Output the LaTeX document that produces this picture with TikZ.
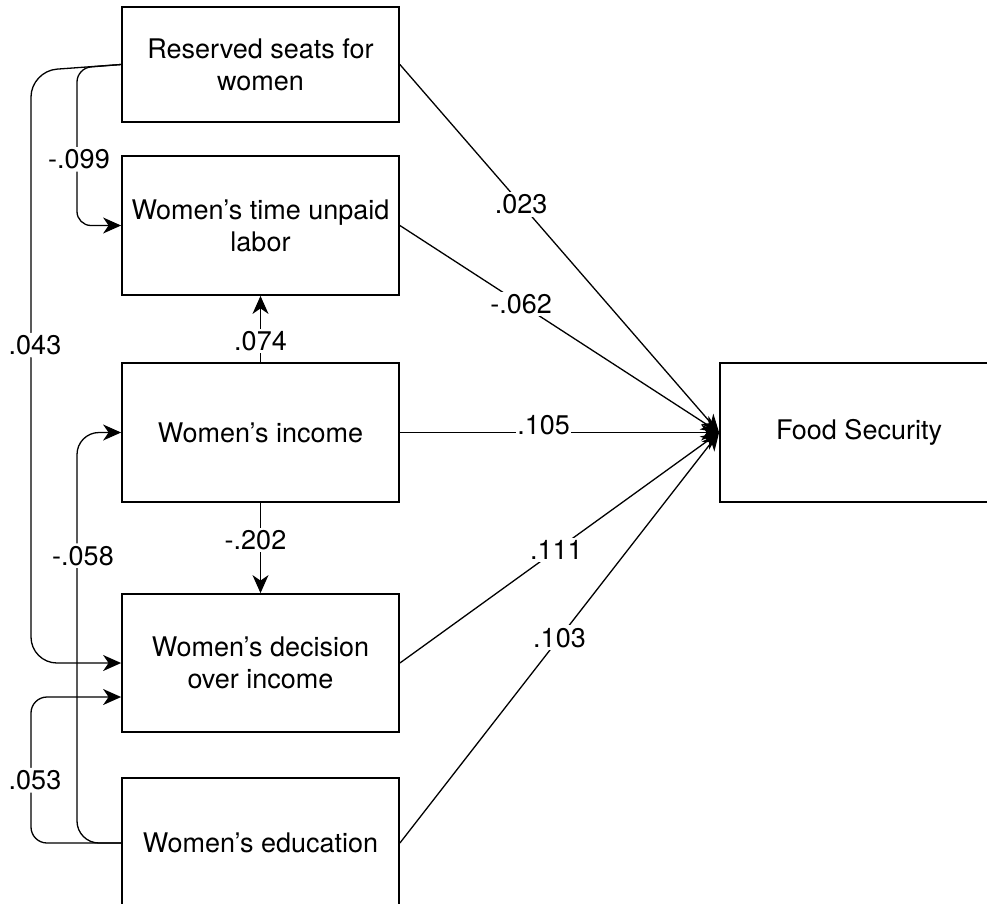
\documentclass[tikz,border=0pt]{standalone}
\usepackage{fontspec}
\setmainfont{TeX Gyre Heros}
\usetikzlibrary{arrows.meta}
\begin{document}
\begin{tikzpicture}[x=1pt,y=-1pt,
  txt/.style={font=\fontsize{27}{32}\selectfont},
  box/.style={draw, line width=1.8pt, minimum width=277pt, align=center, inner sep=0pt, txt},
  conn/.style={line width=1.3pt, -{Stealth[length=18pt,width=16pt,inset=5.5pt]}},
  lab/.style={fill=white, inner sep=2.5pt, txt}]
\useasboundingbox (0,0) rectangle (987,903);

\node[box, minimum height=115pt] (res) at (260.5,64.5) {Reserved seats for\\women};
\node[box, minimum height=139pt] (time) at (260.5,225.5) {Women's time unpaid\\labor};
\node[box, minimum height=139pt] (inc) at (260.5,432.5) {Women's income};
\node[box, minimum height=138pt] (dec) at (260.5,663) {Women's decision\\over income};
\node[box, minimum height=130pt] (edu) at (260.5,843) {Women's education};
\node[box, minimum width=278pt, minimum height=139pt] (fs) at (859,432.5) {Food Security};

\coordinate (d2) at ([yshift=-34pt]dec.west);

% to Food Security
\draw[conn] (res.east) -- node[lab, pos=0.38] {.023} (fs.west);
\draw[conn] (time.east) -- node[lab, pos=0.38] {-.062} (fs.west);
\draw[conn] (inc.east) -- node[lab, pos=0.45, anchor=base, yshift=-2pt, inner sep=1pt] {.105} (fs.west);
\draw[conn] (dec.east) -- node[lab, pos=0.49] {.111} (fs.west);
\draw[conn] (edu.east) -- node[lab, pos=0.5] {.103} (fs.west);

% vertical between boxes
\draw[conn] (inc.north) -- node[lab, pos=0.32] {.074} (time.south);
\draw[conn] (inc.south) -- node[lab, pos=0.41, xshift=-5pt] {-.202} (dec.north);

% left curved connectors
\draw[conn, rounded corners=26pt] (res.west) -- (31,71) -- node[lab, pos=0.463, xshift=4pt] {.043} (31,663) -- (dec.west);
\draw[conn, rounded corners=14pt] (res.west) -- (77,68) -- node[lab, pos=0.58, xshift=2pt] {-.099} (77,225.5) -- (time.west);
\draw[conn, rounded corners=22pt] (edu.west) -- (77,843) -- node[lab, pos=0.70, xshift=6pt] {-.058} (77,432.5) -- (inc.west);
\draw[conn, rounded corners=16pt] (edu.west) -- (31,843) -- node[lab, pos=0.43, xshift=4pt] {.053} (31,697) -- (d2);
\end{tikzpicture}
\end{document}
